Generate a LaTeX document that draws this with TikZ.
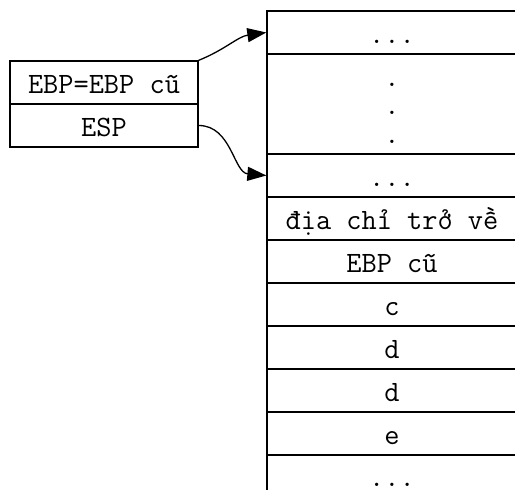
\documentclass[tikz,border=0pt]{standalone}
\usepackage{fontspec}
\usetikzlibrary{arrows.meta}

\begin{document}
\begin{tikzpicture}[x=1pt,y=1pt,line width=1.3pt,
  cell/.style={rectangle,draw,minimum width=250pt,minimum height=43pt,inner sep=0pt,text height=22pt,text depth=0pt,font=\ttfamily\fontsize{29.5}{28.5}\selectfont},
  reg/.style={rectangle,draw,minimum width=188pt,minimum height=43pt,inner sep=0pt,text height=22pt,text depth=0pt,font=\ttfamily\fontsize{29.5}{28.5}\selectfont},
  >={Triangle[length=19pt,width=14pt]}]
\clip (0,0) rectangle (515,490);

\coordinate (A) at (104,407.5);
\coordinate (B) at (104,364.5);
\coordinate (S) at (392,457.5);
\coordinate (T) at (392,386);
\coordinate (U) at (392,314.5);
\coordinate (V) at (392,271.5);
\coordinate (W) at (392,228.5);
\coordinate (X) at (392,185.5);
\coordinate (Y) at (392,142.5);
\coordinate (Z) at (392,99.5);
\coordinate (P) at (392,56.5);
\coordinate (Q) at (392,14);

\node[reg] (A1) at (A) {EBP=EBP cũ};
\node[reg] (B1) at (B) {ESP};

\node[cell] (S1) at (S) {...};
\node[cell,minimum height=100pt,label={[yshift=-9pt,align=center,font=\ttfamily\fontsize{29.5}{28.5}\selectfont]center:.\\.\\.}] (T1) at (T) {};
\node[cell] (U1) at (U) {...};
\node[cell] (V1) at (V) {địa chỉ trở về};
\node[cell] (W1) at (W) {EBP cũ};
\node[cell] (X1) at (X) {c};
\node[cell] (Y1) at (Y) {d};
\node[cell] (Z1) at (Z) {d};
\node[cell] (P1) at (P) {e};
\node[cell] (Q1) at (Q) {...};

\draw[->] (A1.north east) to[out=22,in=188] (S1.west);
\draw[->] (B1.east) to[out=0,in=175] (U1.west);

\end{tikzpicture}
\end{document}
